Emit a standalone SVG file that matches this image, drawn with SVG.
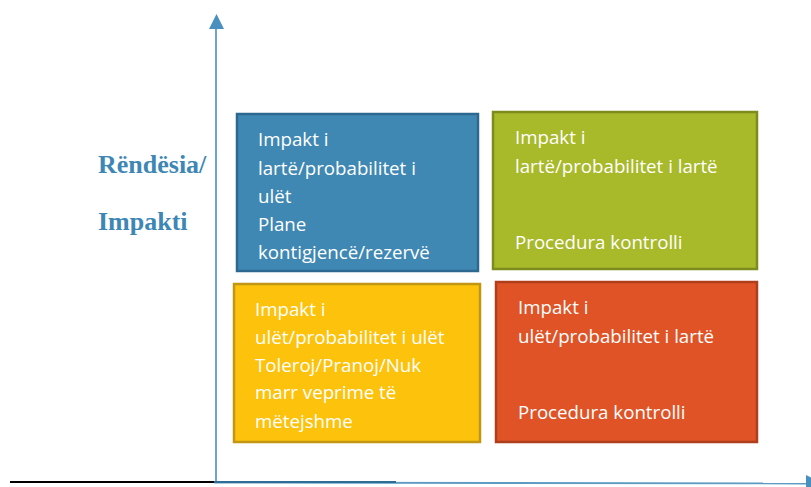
<svg xmlns="http://www.w3.org/2000/svg" width="811" height="487" viewBox="0 0 811 487">
<style>
.box{stroke-width:2.5}
.t{font-family:"Open Sans","Liberation Sans",sans-serif;font-size:18.7px;fill:#ffffff}
.lbl{font-family:"Liberation Serif","Times New Roman",serif;font-size:26px;font-weight:bold;fill:#3E87B5}
.axis{stroke:#4A90BE;stroke-width:1.6;fill:none}
</style>
<rect width="811" height="487" fill="#ffffff"/>
<g id="connectors">
<line x1="10" y1="482" x2="214" y2="482" stroke="#000000" stroke-width="2.2"/>
<line class="axis" x1="216" y1="482" x2="216" y2="27"/>
<polygon points="216.5,14 209,29 224,29" fill="#4A90BE"/>
<line x1="214" y1="482.5" x2="806" y2="483.5" stroke="#5E9BC3" stroke-width="1.8"/>
<line x1="214" y1="482" x2="396" y2="482" stroke="#2F6D96" stroke-width="1.8"/>
<polygon points="806,475 806,490 822,483" fill="#4A90BE"/>
</g>
<g id="axis-label">
<text class="lbl" x="98" y="173">Rëndësia/</text>
<text class="lbl" x="98" y="230">Impakti</text>
</g>
<g id="box-high-impact-low-prob">
<rect class="box" x="237" y="114" width="241" height="157" fill="#3F88B4" stroke="#2D6890"/>
<text class="t" x="258" y="146">Impakt i</text>
<text class="t" x="258" y="175">lartë/probabilitet i</text>
<text class="t" x="258" y="203">ulët</text>
<text class="t" x="258" y="231">Plane</text>
<text class="t" x="258" y="259">kontigjencë/rezervë</text>
</g>
<g id="box-high-impact-high-prob">
<rect class="box" x="493" y="112" width="264" height="157" fill="#A8B92A" stroke="#7E8C1E"/>
<text class="t" x="515" y="144">Impakt i</text>
<text class="t" x="515" y="173">lartë/probabilitet i lartë</text>
<text class="t" x="515" y="249">Procedura kontrolli</text>
</g>
<g id="box-low-impact-low-prob">
<rect class="box" x="234" y="284" width="246" height="158" fill="#FCC20C" stroke="#C09612"/>
<text class="t" x="255" y="316">Impakt i</text>
<text class="t" x="255" y="344">ulët/probabilitet i ulët</text>
<text class="t" x="255" y="372">Toleroj/Pranoj/Nuk</text>
<text class="t" x="255" y="399">marr veprime të</text>
<text class="t" x="255" y="428">mëtejshme</text>
</g>
<g id="box-low-impact-high-prob">
<rect class="box" x="496" y="282" width="261" height="160" fill="#E05326" stroke="#AE3E1C"/>
<text class="t" x="518" y="314">Impakt i</text>
<text class="t" x="518" y="343">ulët/probabilitet i lartë</text>
<text class="t" x="518" y="419">Procedura kontrolli</text>
</g>
</svg>
